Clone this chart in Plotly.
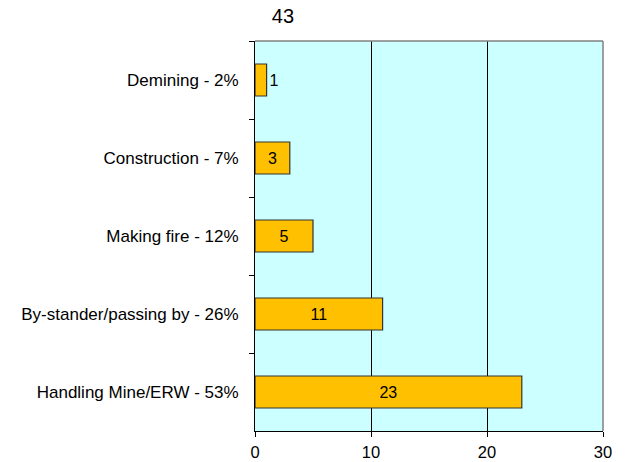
import plotly.graph_objects as go

categories = ["Demining - 2%", "Construction - 7%", "Making fire - 12%",
              "By-stander/passing by - 26%", "Handling Mine/ERW - 53%"]
values = [1, 3, 5, 11, 23]
title_text = "43"
x_ticks = [0, 10, 20, 30]

FONT = "Arial, Liberation Sans, sans-serif"

fig = go.Figure()
fig.add_trace(go.Bar(
    x=values, y=categories, orientation="h",
    marker=dict(color="#FFC000", line=dict(color="#333333", width=1.2)),
    text=[str(v) for v in values],
    textposition="auto",
    insidetextanchor="middle",
    textangle=0,
    constraintext="none",
    insidetextfont=dict(family=FONT, size=16, color="#000000"),
    outsidetextfont=dict(family=FONT, size=16, color="#000000"),
    cliponaxis=False,
    hoverinfo="skip",
))

fig.update_layout(
    width=626, height=462,
    margin=dict(l=255, r=23, t=41, b=31),
    paper_bgcolor="#FFFFFF",
    plot_bgcolor="#CCFFFF",
    bargap=0.59,
    showlegend=False,
    font=dict(family=FONT, size=17, color="#000000"),
    title=dict(text=title_text, x=0.452, xanchor="center", xref="container",
               y=1 - 16 / 462, yanchor="middle", yref="container",
               font=dict(family=FONT, size=20, color="#000000")),
    xaxis=dict(range=[0, 30], tickvals=x_ticks, showgrid=True, gridcolor="#000000",
               gridwidth=1, zeroline=False, showline=True, linecolor="#000000",
               linewidth=1, ticks="outside", ticklen=5, tickcolor="#000000",
               ticklabelstandoff=1, automargin=False,
               tickfont=dict(family=FONT, size=16.5)),
    yaxis=dict(autorange="reversed", showgrid=False, zeroline=False, showline=True,
               linecolor="#000000", linewidth=1, ticks="outside", ticklen=5,
               tickcolor="#000000", tickson="boundaries", ticklabelstandoff=12,
               automargin=False, tickfont=dict(family=FONT, size=17)),
    shapes=[
        dict(type="line", xref="paper", yref="paper", x0=0, x1=1, y0=1, y1=1,
             line=dict(color="#808080", width=1.5), layer="above"),
        dict(type="line", xref="paper", yref="paper", x0=1, x1=1, y0=0, y1=1,
             line=dict(color="#808080", width=1.5), layer="above"),
    ],
)

fig.write_html("out.html",
               config={"displayModeBar": False},
               post_script="document.body.style.margin='0';document.body.style.overflow='hidden';")
